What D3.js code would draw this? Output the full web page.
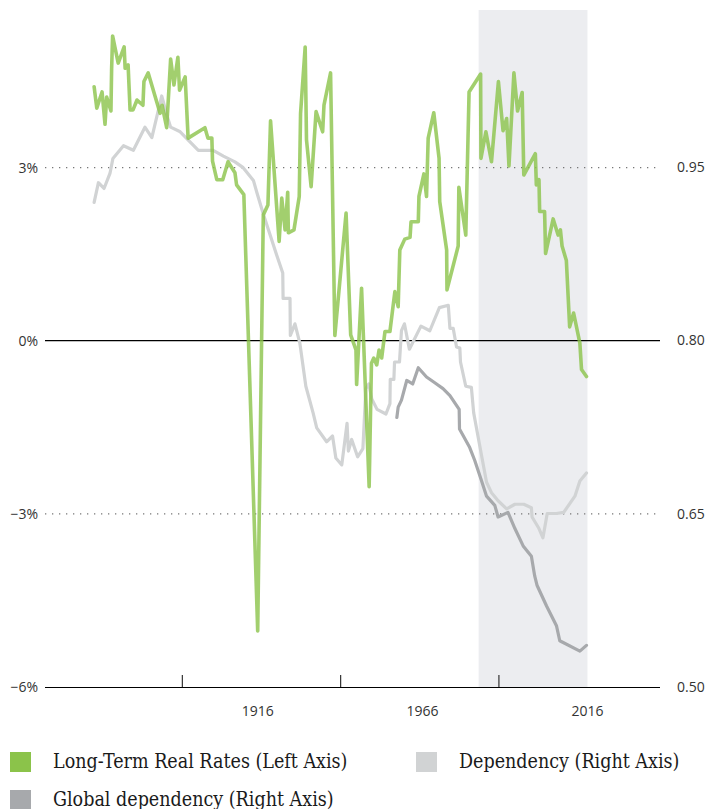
<!DOCTYPE html>
<html>
<head>
<meta charset="utf-8">
<script src="https://cdn.jsdelivr.net/npm/d3@7"></script>
<style>
  html, body { margin: 0; padding: 0; background: #fff; }
  svg { display: block; }
</style>
</head>
<body>
<svg id="chart" width="721" height="809"></svg>
<script>
// ---------------- DATA ----------------
// Long-term real rates (%; left axis) as [year, value]
const realRates = [
  [1866.4,4.40],[1867.2,4.03],[1868.8,4.31],[1869.7,3.75],[1870.2,4.22],[1871.5,3.98],[1871.7,4.70],[1872.0,5.28],
  [1873.7,4.81],[1875.5,5.09],[1875.8,4.72],[1876.7,4.78],[1877.3,4.00],[1878.2,4.00],[1879.4,4.17],[1881.2,4.08],
  [1881.5,4.49],[1882.8,4.64],[1886.4,3.94],[1887.0,4.08],[1888.4,3.69],[1889.6,4.88],[1890.6,4.43],[1891.8,4.91],
  [1892.3,4.34],[1894.0,4.57],[1894.9,3.51],[1900.0,3.69],[1900.9,3.51],[1902.1,3.51],[1902.3,3.11],[1903.6,2.79],
  [1905.4,2.79],[1907.0,3.10],[1909.1,2.91],[1909.6,2.70],[1911.8,2.53],[1916.0,-5.03],[1917.7,2.18],[1919.1,2.35],
  [1919.9,3.81],[1922.5,1.72],[1923.3,2.47],[1924.3,1.92],[1925.1,2.57],[1925.3,1.87],[1927.0,1.92],[1928.6,2.50],
  [1929.0,3.94],[1930.4,5.09],[1930.8,3.48],[1932.2,2.67],[1933.7,3.97],[1935.7,3.62],[1936.1,4.08],[1938.1,4.64],
  [1939.4,0.09],[1942.8,2.21],[1944.2,0.10],[1945.8,-0.16],[1946.0,-0.76],[1947.5,0.91],[1949.8,-2.53],[1950.5,-0.39],
  [1951.2,-0.30],[1952.1,-0.42],[1952.8,-0.16],[1953.6,-0.30],[1954.6,0.16],[1956.1,0.16],[1957.6,0.85],[1958.6,0.59],
  [1959.1,1.57],[1960.6,1.76],[1962.2,1.79],[1962.5,2.06],[1964.7,2.06],[1964.9,2.50],[1966.4,2.89],[1967.2,2.50],
  [1967.7,3.51],[1969.4,3.95],[1971.0,3.16],[1971.2,2.41],[1973.3,1.57],[1973.4,0.88],[1976.8,1.64],[1977.0,2.66],
  [1979.1,1.83],[1980.1,4.31],[1983.6,4.62],[1983.7,3.16],[1985.2,3.62],[1986.9,3.10],[1989.0,4.49],[1990.4,3.64],
  [1991.5,3.85],[1992.2,3.03],[1993.7,4.64],[1994.8,3.98],[1996.2,4.30],[1996.7,2.87],[2000.2,3.24],[2000.5,2.70],
  [2001.3,2.79],[2001.5,2.24],[2003.0,2.24],[2003.3,1.51],[2005.6,2.11],[2007.1,1.83],[2007.8,1.92],[2008.3,1.64],
  [2009.6,1.39],[2010.6,0.24],[2011.8,0.48],[2013.7,-0.04],[2014.2,-0.50],[2015.7,-0.62]
];

// Dependency (right axis) as [year, value]
const dependency = [
  [1866.4,0.919],[1867.7,0.936],[1869.4,0.931],[1871.2,0.944],[1872.1,0.957],[1875.3,0.968],[1878.3,0.964],
  [1881.8,0.984],[1883.9,0.975],[1886.9,1.011],[1888.6,0.993],[1889.6,0.984],[1892.5,0.980],[1898.0,0.964],
  [1902.5,0.964],[1905.6,0.959],[1909.1,0.954],[1911.6,0.949],[1914.7,0.938],[1915.7,0.928],[1917.7,0.909],
  [1921.8,0.873],[1923.6,0.858],[1923.7,0.836],[1925.8,0.836],[1925.9,0.804],[1927.3,0.814],[1928.8,0.797],
  [1930.6,0.760],[1932.8,0.737],[1933.9,0.724],[1936.9,0.712],[1938.7,0.717],[1939.7,0.698],[1941.5,0.692],
  [1943.1,0.728],[1943.5,0.704],[1944.5,0.714],[1946.3,0.699],[1947.9,0.706],[1948.8,0.758],[1949.7,0.762],
  [1950.6,0.749],[1952.2,0.740],[1954.9,0.736],[1956.1,0.745],[1956.2,0.766],[1957.3,0.766],[1957.5,0.781],
  [1959.0,0.781],[1959.6,0.808],[1960.5,0.814],[1962.0,0.792],[1965.5,0.812],[1968.2,0.808],[1971.1,0.828],
  [1973.8,0.830],[1974.3,0.810],[1975.3,0.810],[1976.3,0.794],[1977.3,0.793],[1977.5,0.781],[1979.1,0.760],
  [1980.8,0.759],[1981.5,0.737],[1983.9,0.700],[1985.4,0.677],[1986.9,0.668],[1988.9,0.661],[1991.5,0.654],
  [1994.0,0.658],[1996.7,0.658],[1999.0,0.655],[1999.2,0.647],[2001.3,0.637],[2002.5,0.629],[2003.8,0.650],
  [2006.6,0.650],[2008.8,0.651],[2012.2,0.665],[2013.7,0.678],[2015.7,0.685]
];

// Global dependency (right axis) as [year, value]
const globalDependency = [
  [1958.2,0.733],[1958.6,0.742],[1959.6,0.748],[1961.2,0.765],[1963.0,0.762],[1964.7,0.776],[1967.2,0.768],
  [1969.7,0.763],[1972.2,0.758],[1974.3,0.752],[1977.1,0.740],[1977.2,0.723],[1980.3,0.707],[1981.8,0.696],
  [1983.9,0.678],[1985.4,0.665],[1987.9,0.657],[1988.9,0.647],[1991.9,0.651],[1994.0,0.637],[1996.5,0.622],
  [1999.0,0.613],[2000.0,0.596],[2000.7,0.588],[2003.6,0.570],[2006.6,0.553],[2007.6,0.540],[2013.7,0.531],
  [2015.7,0.536]
];

const shadedPeriod = [1983, 2016];
const xTickMarkYears = [1893, 1941, 1989];
const xLabelYears = [1916, 1966, 2016];
const leftTicks = [-6, -3, 0, 3];
const leftTickLabels = ["\u22126%", "\u22123%", "0%", "3%"];
const rightTicks = [0.50, 0.65, 0.80, 0.95];
const rightTickLabels = ["0.50", "0.65", "0.80", "0.95"];
const legendLabels = ["Long-Term Real Rates (Left Axis)", "Dependency (Right Axis)", "Global dependency (Right Axis)"];
const seriesColors = ["#8bc34a", "#d1d3d4", "#a7a9ac"];

// ---------------- CHART ----------------
const svg = d3.select("#chart");
const L = 45, R = 660, T = 10, B = 687;

const x = d3.scaleLinear().domain([1851.5, 2038]).range([L, R]);
const yL = d3.scaleLinear().domain([-6, 5.73]).range([B, T]);
const yR = d3.scaleLinear().domain([0.50, 1.0853]).range([B, T]);

// shaded period
svg.append("rect")
  .attr("x", x(shadedPeriod[0]))
  .attr("y", T)
  .attr("width", x(shadedPeriod[1]) - x(shadedPeriod[0]))
  .attr("height", B - T)
  .attr("fill", "#ecedf0");

// gridlines
const grid = svg.append("g");
leftTicks.forEach(v => {
  if (v === -6) return;
  grid.append("line")
    .attr("x1", L).attr("x2", R)
    .attr("y1", yL(v)).attr("y2", yL(v))
    .attr("stroke", v === 0 ? "#000" : "#777")
    .attr("stroke-width", v === 0 ? 1.2 : 1.3)
    .attr("stroke-dasharray", v === 0 ? null : "1.3,5.7");
});

// left axis labels
const tickFont = "'Open Sans', 'Noto Sans', sans-serif";
const leftAxis = d3.axisLeft(yL).tickValues(leftTicks)
  .tickFormat((d, i) => leftTickLabels[i]).tickSize(0).tickPadding(0);
const gl = svg.append("g").attr("transform", `translate(${L - 7},0)`).call(leftAxis);
gl.select(".domain").remove();
gl.selectAll("text").attr("font-family", tickFont).attr("font-size", 14).attr("fill", "#333").attr("dy", "0.35em");

const rightAxis = d3.axisRight(yR).tickValues(rightTicks)
  .tickFormat((d, i) => rightTickLabels[i]).tickSize(0).tickPadding(0);
const gr = svg.append("g").attr("transform", `translate(${R + 17},0)`).call(rightAxis);
gr.select(".domain").remove();
gr.selectAll("text").attr("font-family", tickFont).attr("font-size", 14).attr("fill", "#333").attr("dy", "0.35em");

// lines
const lineL = d3.line().x(d => x(d[0])).y(d => yL(d[1]));
const lineR = d3.line().x(d => x(d[0])).y(d => yR(d[1]));

svg.append("path").datum(dependency).attr("d", lineR)
  .attr("fill", "none").attr("stroke", seriesColors[1]).attr("stroke-width", 3.2)
  .attr("stroke-linejoin", "round").attr("stroke-linecap", "round");
svg.append("path").datum(globalDependency).attr("d", lineR)
  .attr("fill", "none").attr("stroke", seriesColors[2]).attr("stroke-width", 3.2)
  .attr("stroke-linejoin", "round").attr("stroke-linecap", "round");
svg.append("path").datum(realRates).attr("d", lineL)
  .attr("fill", "none").attr("stroke", seriesColors[0]).attr("stroke-opacity", 0.8).attr("stroke-width", 3.6)
  .attr("stroke-linejoin", "round").attr("stroke-linecap", "round");

// bottom axis
const bottomAxis = d3.axisBottom(x).tickValues(xTickMarkYears).tickSize(-12).tickFormat("");
const gb = svg.append("g").attr("transform", `translate(0,${B})`).call(bottomAxis);
gb.select(".domain").attr("d", `M${L},0.5H${R}`).attr("stroke", "#000").attr("stroke-width", 1.2);
gb.selectAll(".tick line").attr("stroke", "#333").attr("stroke-width", 1.2);

svg.append("g").selectAll("text").data(xLabelYears).join("text")
  .attr("x", d => x(d)).attr("y", B + 29)
  .attr("text-anchor", "middle")
  .attr("font-family", tickFont).attr("font-size", 14).attr("fill", "#333")
  .text(d => d);

// legend
const legendPos = [[10, 752], [416, 752], [10, 790]];
const legendFont = "'DejaVu Serif Condensed', 'DejaVu Serif', serif";
const lg = svg.append("g");
legendLabels.forEach((lab, i) => {
  const [lx, ly] = legendPos[i];
  lg.append("rect").attr("x", lx).attr("y", ly).attr("width", 21).attr("height", 20).attr("fill", seriesColors[i]);
  lg.append("text").attr("x", lx + 43).attr("y", ly + 16)
    .attr("font-family", legendFont).attr("font-stretch", "condensed")
    .attr("font-size", 19.5).attr("fill", "#1a1a1a").text(lab);
});
</script>
</body>
</html>
